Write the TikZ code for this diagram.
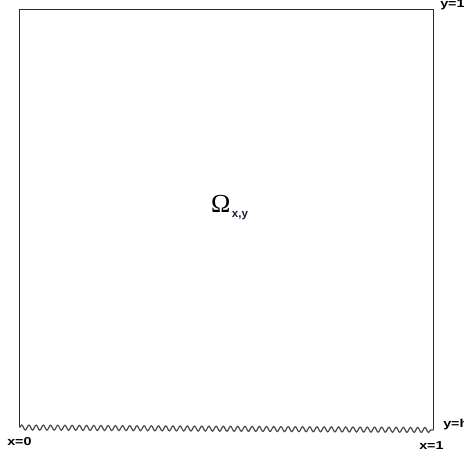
\documentclass[tikz,border=0pt]{standalone}
\usepackage{fontspec}
\setsansfont{Liberation Sans}
\newfontfamily\omfont{Liberation Serif}
\usetikzlibrary{decorations.pathmorphing}
\definecolor{edge}{HTML}{2A2A2A}
\definecolor{subc}{HTML}{1A1A40}
\begin{document}
\begin{tikzpicture}[x=1pt,y=-1pt,
  wall/.style={draw=edge,line width=1.8pt},
  wavy/.style={draw=edge!85,line width=1.2pt,decorate,decoration={snake,segment length=7.2pt,amplitude=2.5pt}},
  lbl/.style={font=\sffamily\bfseries\fontsize{11.5}{11.5}\selectfont,inner sep=0pt,xscale=1.25,text=black}]
\useasboundingbox (0,0) rectangle (464,454);
\coordinate (bl) at (19.5,427.5);
\coordinate (tl) at (19.5,9.5);
\coordinate (tr) at (433.5,9.5);
\coordinate (br) at (433.5,430);
\draw[wall] (bl) -- (tl) -- (tr) -- (br);
\draw[wavy] (bl) -- (br);
\node[lbl,anchor=north west] (y1) at (440,-0.5) {y=1};
\node[lbl,anchor=west] (yh) at (443,425) {y=h};
\node[lbl,anchor=west] (x0) at (7,441.5) {x=0};
\node[lbl,anchor=west] (x1) at (419,445.5) {x=1};
\node[anchor=base west,inner sep=0pt,font=\omfont\fontsize{26}{26}\selectfont] (om) at (211,213) {Ω};
\node[anchor=base west,inner sep=0pt,font=\sffamily\bfseries\fontsize{11.5}{11.5}\selectfont,text=subc] (sub) at (om.base east) [xshift=1pt,yshift=-5pt] {x,y};
\end{tikzpicture}
\end{document}
